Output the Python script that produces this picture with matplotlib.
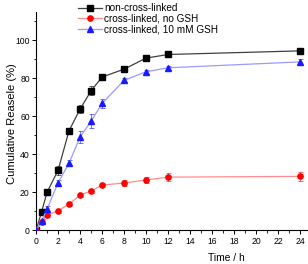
import numpy as np
import matplotlib
matplotlib.use("Agg")
import matplotlib.pyplot as plt
from matplotlib.ticker import MultipleLocator

plt.rcParams['font.family'] = ['Liberation Sans', 'DejaVu Sans']

# data
time_h = [0, 0.5, 1, 2, 3, 4, 5, 6, 8, 10, 12, 24]
non_cross = [0, 9.6, 20.0, 31.6, 52.5, 63.8, 73.5, 80.7, 84.9, 90.7, 92.6, 94.5]
non_cross_err = [0, 1.0, 1.5, 2.5, 1.5, 2.0, 2.5, 1.0, 1.0, 1.0, 1.0, 1.0]
cl_no_gsh = [0, 4.4, 8.0, 10.3, 13.8, 18.6, 20.7, 23.8, 24.9, 26.5, 28.0, 28.4]
cl_no_gsh_err = [0, 1.0, 1.0, 1.0, 1.0, 1.0, 1.0, 1.0, 1.5, 1.5, 2.0, 2.5]
cl_gsh = [0, 4.7, 11.2, 25.0, 35.4, 49.1, 57.5, 66.8, 79.0, 83.5, 85.6, 88.7]
cl_gsh_err = [0, 1.0, 1.5, 1.5, 1.5, 3.0, 3.5, 2.5, 1.0, 1.0, 1.0, 1.5]
labels = ["non-cross-linked", "cross-linked, no GSH", "cross-linked, 10 mM GSH"]

fig = plt.figure(figsize=(3.08, 2.64), dpi=100)
ax = fig.add_axes([0.117, 0.1277, 0.883, 0.827])

series = [
    (non_cross, non_cross_err, "s", "black", "#404040"),
    (cl_no_gsh, cl_no_gsh_err, "o", "#ff0000", "#ff8c8c"),
    (cl_gsh, cl_gsh_err, "^", "#1a1aff", "#9a9aff"),
]
handles = []
for (vals, err, mk, mc, lc), lab in zip(series, labels):
    ax.errorbar(time_h, vals, yerr=err, fmt="none", ecolor=mc, elinewidth=0.6,
                capsize=1.8, capthick=0.6, alpha=0.7, zorder=2)
    h, = ax.plot(time_h, vals, color=lc, lw=0.9, marker=mk, markersize=3.8,
                 markerfacecolor=mc, markeredgecolor=mc, label=lab, zorder=3)
    handles.append(h)

ax.set_xlim(0, 24.7)
ax.set_ylim(0, 115)
ax.xaxis.set_major_locator(MultipleLocator(2))
ax.xaxis.set_minor_locator(MultipleLocator(1))
ax.yaxis.set_minor_locator(MultipleLocator(10))
ax.set_yticks([0, 20, 40, 60, 80, 100])
ax.tick_params(which="major", direction="out", length=3, width=0.7, labelsize=6.2, pad=1.5)
ax.tick_params(which="minor", direction="out", length=1.8, width=0.6)
for s in ["top", "right"]:
    ax.spines[s].set_visible(False)
for s in ["left", "bottom"]:
    ax.spines[s].set_linewidth(0.8)

ax.set_ylabel("Cumulative Reasele (%)", fontsize=8)
ax.set_xlabel("Time / h", fontsize=7.4)
ax.xaxis.set_label_coords(0.70, -0.105)
ax.yaxis.set_label_coords(-0.07, 0.49)

fig.legend(handles=handles, loc="upper left", bbox_to_anchor=(0.23, 1.015),
           frameon=False, fontsize=7.2, handlelength=2.4, handletextpad=0.2,
           labelspacing=0.05, borderpad=0.2, markerscale=1.0)

fig.savefig("out.png", dpi=100)
